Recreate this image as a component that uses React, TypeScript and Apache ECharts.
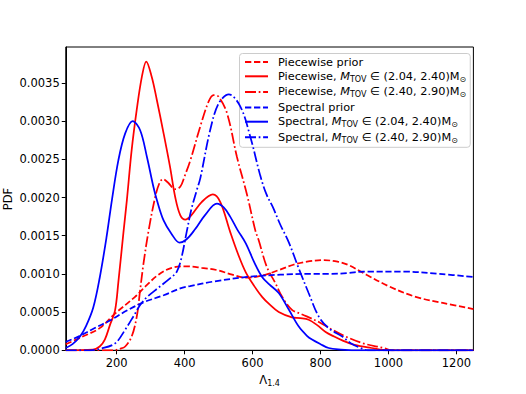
import React, { useEffect, useRef } from "react";
import * as echarts from "echarts";

const xTicks = [200, 400, 600, 800, 1000, 1200];
const yTicks = [0, 0.0005, 0.001, 0.0015, 0.002, 0.0025, 0.003, 0.0035];

const seriesNames = [
  "Piecewise prior",
  "Piecewise, M_TOV ∈ (2.04, 2.40)M⊙",
  "Piecewise, M_TOV ∈ (2.40, 2.90)M⊙",
  "Spectral prior",
  "Spectral, M_TOV ∈ (2.04, 2.40)M⊙",
  "Spectral, M_TOV ∈ (2.40, 2.90)M⊙",
];

// [Lambda_1.4, PDF]
const piecewisePrior = [
  [50, 0.00008], [100, 0.00018], [150, 0.00029], [195, 0.00048], [254, 0.0007],
  [290, 0.00086], [323, 0.00099], [362, 0.00108], [405, 0.0011], [450, 0.00108],
  [495, 0.00105], [540, 0.00099], [580, 0.00095], [630, 0.00098], [677, 0.00105],
  [720, 0.00112], [760, 0.00116], [810, 0.00118], [850, 0.00116], [880, 0.00112],
  [935, 0.00099], [1000, 0.00084], [1080, 0.0007], [1160, 0.00062], [1250, 0.00054],
];

const piecewiseLow = [
  [50, 0], [130, 0.00001], [150, 0.00005], [165, 0.00014], [180, 0.00033],
  [195, 0.00052], [205, 0.0009], [220, 0.00155], [230, 0.00197], [244, 0.00262],
  [259, 0.00315], [274, 0.00358], [287, 0.00378], [303, 0.00358], [318, 0.00328],
  [338, 0.00284], [357, 0.0024], [372, 0.00201], [387, 0.00177], [402, 0.00171],
  [420, 0.00177], [450, 0.00194], [483, 0.00204], [505, 0.00194], [534, 0.00155],
  [558, 0.00125], [580, 0.00102], [605, 0.00084], [628, 0.0007], [650, 0.0006],
  [677, 0.0005], [716, 0.00043], [740, 0.00042], [765, 0.0004], [790, 0.00033],
  [815, 0.00024], [840, 0.00018], [864, 0.00013], [900, 0.00007], [950, 0.00003],
  [1000, 0], [1250, 0],
];

const piecewiseHigh = [
  [50, 0], [190, 0], [210, 0.00002], [225, 0.00005], [244, 0.00018], [259, 0.00044],
  [269, 0.00079], [279, 0.00114], [294, 0.00157], [313, 0.002], [325, 0.00218],
  [336, 0.00224], [350, 0.0022], [372, 0.00211], [387, 0.00214], [400, 0.00228],
  [417, 0.00249], [446, 0.00293], [470, 0.00325], [485, 0.00334], [500, 0.00332],
  [525, 0.0031], [554, 0.00253], [584, 0.00203], [608, 0.00157], [618, 0.00144],
  [642, 0.00109], [667, 0.00088], [687, 0.0007], [716, 0.00053], [740, 0.00048],
  [756, 0.00045], [795, 0.00037], [834, 0.00027], [874, 0.00018], [926, 0.00009],
  [986, 0.00003], [1010, 0], [1250, 0],
];

const spectralPrior = [
  [50, 0.00011], [92, 0.00019], [130, 0.00028], [180, 0.00039], [230, 0.00052],
  [280, 0.00063], [338, 0.00072], [387, 0.00081], [416, 0.00084], [485, 0.0009],
  [584, 0.00096], [682, 0.00099], [770, 0.001], [828, 0.001], [880, 0.00101],
  [926, 0.00103], [1045, 0.00103], [1150, 0.001], [1250, 0.00096],
];

const spectralLow = [
  [50, 0.00003], [70, 0.00008], [92, 0.00018], [110, 0.00032], [131, 0.00056],
  [150, 0.00095], [170, 0.00148], [186, 0.00197], [205, 0.00249], [225, 0.00284],
  [247, 0.003], [269, 0.00288], [289, 0.00253], [308, 0.00214], [318, 0.00197],
  [338, 0.0017], [362, 0.00152], [385, 0.00141], [405, 0.00145], [430, 0.00158],
  [460, 0.00177], [495, 0.00192], [515, 0.00187], [534, 0.00175], [555, 0.00158],
  [580, 0.0014], [605, 0.00115], [628, 0.00096], [650, 0.00086], [677, 0.00075],
  [707, 0.00053], [736, 0.00031], [760, 0.00019], [775, 0.00014], [800, 0.00008],
  [824, 0.00003], [860, 0.00001], [900, 0], [1250, 0],
];

const spectralHigh = [
  [50, 0], [120, 0], [151, 0.00002], [195, 0.00009], [225, 0.00027], [250, 0.00045],
  [270, 0.0006], [290, 0.0007], [323, 0.00082], [362, 0.00096], [377, 0.00103],
  [390, 0.0012], [406, 0.00155], [420, 0.00185], [436, 0.0021], [446, 0.00225],
  [475, 0.00288], [500, 0.00323], [530, 0.00335], [564, 0.00319], [593, 0.0028],
  [623, 0.00228], [641, 0.00204], [660, 0.00187], [682, 0.00164], [706, 0.00142],
  [736, 0.00107], [765, 0.00075], [795, 0.00044], [824, 0.00029], [864, 0.00018],
  [890, 0.00009], [918, 0.00003], [940, 0], [1250, 0],
];

const seriesData = [piecewisePrior, piecewiseLow, piecewiseHigh, spectralPrior, spectralLow, spectralHigh];
const seriesColors = ["#ff0000", "#ff0000", "#ff0000", "#0000ff", "#0000ff", "#0000ff"];
const DASHED = [6.3, 2.7];
const DASHDOT = [11, 2.7, 1.7, 2.7];
const seriesDash: any[] = [DASHED, "solid", DASHDOT, DASHED, "solid", DASHDOT];

const FONT = "DejaVu Sans";

function legendRich(name: string): string {
  const m = name.match(/^(.*?)M_TOV(.*)M⊙$/);
  if (!m) return `{n|${name}}`;
  return `{n|${m[1]}}{i|M}{s|TOV}{n|${m[2]}M}{s|⊙}`;
}

export default function App() {
  const ref = useRef<HTMLDivElement>(null);
  useEffect(() => {
    document.body.style.margin = "0";
    const chart = echarts.init(ref.current!, null, { renderer: "svg" });
    const series = seriesNames.map((name, i) => ({
      name,
      type: "line",
      data: seriesData[i],
      symbol: "none",
      showSymbol: false,
      smooth: 0.35,
      clip: true,
      lineStyle: { color: seriesColors[i], width: 1.75, type: seriesDash[i], cap: "butt" },
      itemStyle: { color: seriesColors[i] },
      z: 2 + i,
    }));
    chart.setOption({
      animation: false,
      backgroundColor: "#ffffff",
      textStyle: { fontFamily: FONT },
      grid: {
        left: 65.75,
        right: 52.6,
        top: 47,
        bottom: 43.7,
        outerBoundsMode: "none",
        containLabel: false,
        show: true,
        borderColor: "#000",
        borderWidth: 1,
        backgroundColor: "transparent",
      },
      graphic: [
        {
          type: "text",
          x: 8,
          y: 199,
          rotation: Math.PI / 2,
          style: {
            text: "PDF",
            fontFamily: FONT,
            fontSize: 11.5,
            fill: "#000",
            align: "center",
            verticalAlign: "middle",
          },
        },
      ],
      legend: {
        orient: "vertical",
        left: 239.5,
        top: 53.5,
        padding: [3, 4, 3, 4.5],
        itemWidth: 23,
        itemHeight: 14,
        itemGap: 3,
        borderColor: "#cccccc",
        borderWidth: 1,
        borderRadius: 3,
        backgroundColor: "rgba(255,255,255,0.8)",
        itemStyle: { opacity: 0 },
        data: seriesNames,
        formatter: (name: string) => legendRich(name),
        textStyle: {
          fontFamily: FONT,
          fontSize: 11.3,
          color: "#000",
          padding: [0, 0, 0, 5],
          rich: {
            n: { fontFamily: FONT, fontSize: 11.3, color: "#000", lineHeight: 14 },
            i: { fontFamily: FONT, fontSize: 11.3, color: "#000", fontStyle: "italic", lineHeight: 14 },
            s: { fontFamily: FONT, fontSize: 8, color: "#000", verticalAlign: "bottom", lineHeight: 10 },
          },
        },
      },
      xAxis: {
        type: "value",
        min: 50,
        max: 1250,
        name: "{a|Λ}{b|1.4}",
        nameLocation: "middle",
        nameGap: 23,
        nameTextStyle: {
          rich: {
            a: { fontFamily: FONT, fontSize: 11.5, color: "#000", lineHeight: 14 },
            b: { fontFamily: FONT, fontSize: 8, color: "#000", verticalAlign: "bottom", lineHeight: 10 },
          },
        },
        axisLine: { show: true, onZero: false, lineStyle: { color: "#000", width: 1 } },
        axisTick: { show: true, inside: false, length: 4, customValues: xTicks, lineStyle: { color: "#000", width: 1 } },
        axisLabel: {
          customValues: xTicks,
          margin: 7,
          fontFamily: FONT,
          fontSize: 11.5,
          color: "#000",
          formatter: (v: number) => String(v),
        },
        splitLine: { show: false },
      },
      yAxis: {
        type: "value",
        min: 0,
        max: 0.00397,
        axisLine: { show: true, onZero: false, lineStyle: { color: "#000", width: 1 } },
        axisTick: { show: true, inside: false, length: 4, customValues: yTicks, lineStyle: { color: "#000", width: 1 } },
        axisLabel: {
          customValues: yTicks,
          margin: 6,
          fontFamily: FONT,
          fontSize: 11.5,
          color: "#000",
          formatter: (v: number) => v.toFixed(4),
        },
        splitLine: { show: false },
      },
      series,
    });
    return () => chart.dispose();
  }, []);
  return <div ref={ref} style={{ position: "absolute", left: 0, top: 0, width: 526, height: 394 }} />;
}
